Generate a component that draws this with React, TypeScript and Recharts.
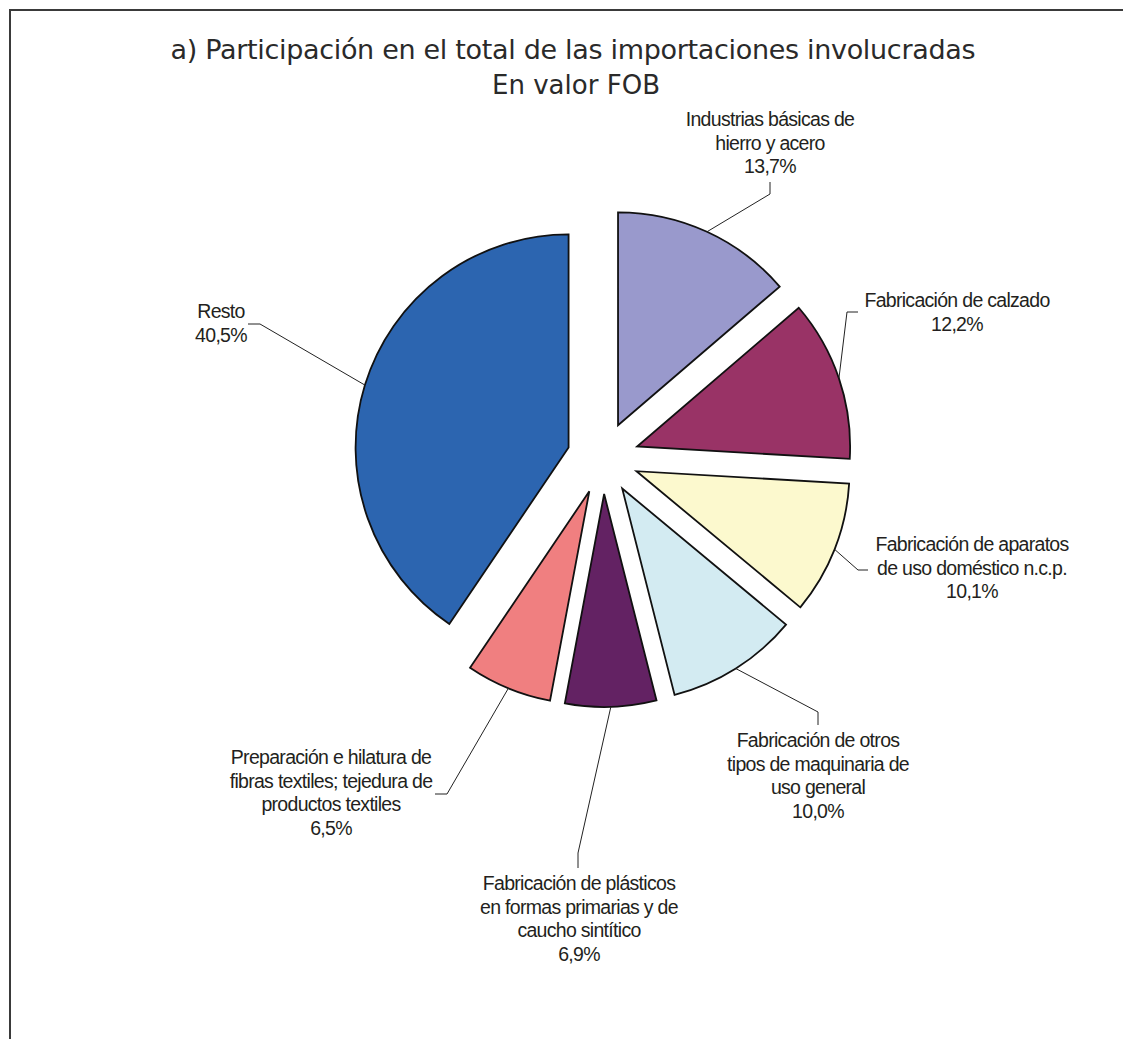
import React from 'react';
import { PieChart, Pie, Sector } from 'recharts';

const CATEGORIES = [
  'Industrias básicas de hierro y acero',
  'Fabricación de calzado',
  'Fabricación de aparatos de uso doméstico n.c.p.',
  'Fabricación de otros tipos de maquinaria de uso general',
  'Fabricación de plásticos en formas primarias y de caucho sintítico',
  'Preparación e hilatura de fibras textiles; tejedura de productos textiles',
  'Resto',
];
const VALUES = [13.7, 12.2, 10.1, 10.0, 6.9, 6.5, 40.5];
const LABEL_LINES = [
  ['Industrias básicas de', 'hierro y acero'],
  ['Fabricación de calzado'],
  ['Fabricación de aparatos', 'de uso doméstico n.c.p.'],
  ['Fabricación de otros', 'tipos de maquinaria de', 'uso general'],
  ['Fabricación de plásticos', 'en formas primarias y de', 'caucho sintítico'],
  ['Preparación e hilatura de', 'fibras textiles; tejedura de', 'productos textiles'],
  ['Resto'],
];
const COLORS = ['#9999CC', '#993366', '#FCF9CE', '#D3EBF2', '#632263', '#F07F80', '#2C65B0'];

// label layout, relative to pie center: elbow point, end point, text center x, first baseline y
const LABEL_LAYOUT = [
  { elbow: [167, -264], end: [167, -276], tx: 167, ty: -332 },
  { elbow: [244, -146], end: [255, -146], tx: 354, ty: -151 },
  { elbow: [255, 112], end: [265, 112], tx: 369, ty: 93 },
  { elbow: [215, 254], end: [215, 267], tx: 215, ty: 289 },
  { elbow: [-25, 395], end: [-25, 410], tx: -24, ty: 432 },
  { elbow: [-156, 336], end: [-168, 336], tx: -272, ty: 306 },
  { elbow: [-343, -134], end: [-355, -134], tx: -382, ty: -140 },
];

const TITLE_1 = 'a) Participación en el total de las importaciones involucradas';
const TITLE_2 = 'En valor FOB';

const data = CATEGORIES.map((name, i) => ({ name, value: VALUES[i] }));

const EXPLODE = 36;
const LINE_H = 23.5;

const fmt = (v: number) => v.toFixed(1).replace('.', ',') + '%';

const renderLabel = (props: any) => {
  const { cx, cy, midAngle, outerRadius, startAngle, endAngle, index } = props;
  const rad = (-midAngle * Math.PI) / 180;
  const ox = cx + EXPLODE * Math.cos(rad);
  const oy = cy + EXPLODE * Math.sin(rad);
  const ax = ox + outerRadius * Math.cos(rad);
  const ay = oy + outerRadius * Math.sin(rad);
  const lay = LABEL_LAYOUT[index];
  const lines = [...LABEL_LINES[index], fmt(VALUES[index])];
  return (
    <g key={`lbl-${index}`}>
      <Sector
        cx={ox}
        cy={oy}
        innerRadius={0}
        outerRadius={outerRadius}
        startAngle={startAngle}
        endAngle={endAngle}
        fill={COLORS[index]}
        stroke="#111"
        strokeWidth={1.8}
        strokeLinejoin="miter"
      />
      <polyline
        points={`${ax},${ay} ${cx + lay.elbow[0]},${cy + lay.elbow[1]} ${cx + lay.end[0]},${cy + lay.end[1]}`}
        fill="none"
        stroke="#222"
        strokeWidth={1}
      />
      <text
        textAnchor="middle"
        fontFamily="'Liberation Sans', Arial, sans-serif"
        fontSize={19.5}
        letterSpacing={-0.7}
        fill="#231F20"
      >
        {lines.map((ln, k) => (
          <tspan key={k} x={cx + lay.tx} y={cy + lay.ty + k * LINE_H}>
            {ln}
          </tspan>
        ))}
      </text>
    </g>
  );
};

export default function App() {
  return (
    <div style={{ position: 'absolute', left: 0, top: 0, width: 1123, height: 1039, background: '#fff' }}>
      <svg width={1123} height={1039} style={{ position: 'absolute', left: 0, top: 0 }}>
        <rect x={10} y={10} width={1300} height={1200} fill="none" stroke="#3a3a3a" strokeWidth={2} />
        <text
          x={573}
          y={59}
          textAnchor="middle"
          fontFamily="'DejaVu Sans', Verdana, sans-serif"
          fontSize={27}
          fill="#2a2a2a"
          textLength={805}
          lengthAdjust="spacing"
        >
          {TITLE_1}
        </text>
        <text
          x={576}
          y={94}
          textAnchor="middle"
          fontFamily="'DejaVu Sans', Verdana, sans-serif"
          fontSize={27}
          fill="#2a2a2a"
          textLength={168}
          lengthAdjust="spacingAndGlyphs"
        >
          {TITLE_2}
        </text>
      </svg>
      <div style={{ position: 'absolute', left: 0, top: 0 }}>
        <PieChart width={1123} height={1039} margin={{ top: 0, right: 0, bottom: 0, left: 0 }}>
          <Pie
            data={data}
            dataKey="value"
            nameKey="name"
            cx={603}
            cy={458}
            innerRadius={0}
            outerRadius={213}
            startAngle={90}
            endAngle={-270}
            fill="none"
            stroke="none"
            label={renderLabel}
            labelLine={false}
            isAnimationActive={false}
          />
        </PieChart>
      </div>
    </div>
  );
}
